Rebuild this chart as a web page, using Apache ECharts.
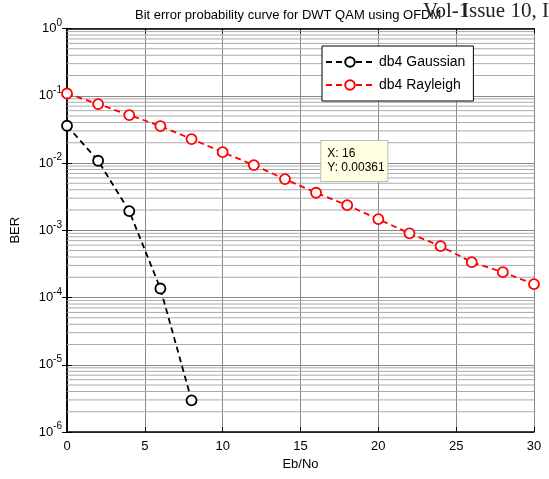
<!DOCTYPE html>
<html><head><meta charset="utf-8">
<script src="https://cdn.jsdelivr.net/npm/echarts@6/dist/echarts.min.js"></script>
<style>html,body{margin:0;padding:0;background:#fff}#c{width:549px;height:479px}</style>
</head><body><div id="c"></div>
<script>
var ebNo = [0, 2, 4, 6, 8, 10, 12, 14, 16, 18, 20, 22, 24, 26, 28, 30];
var gaussianX = [0, 2, 4, 6, 8];
var gaussianBER = [0.0358, 0.0108, 0.00192, 0.000136, 0.00000296];
var rayleighBER = [0.108, 0.0752, 0.0516, 0.0354, 0.0227, 0.0145, 0.0093, 0.00576, 0.00361, 0.00236, 0.00146, 0.00090, 0.00058, 0.000335, 0.000238, 0.000158];
var dataTip = [16, 0.00361];
var xRange = [0, 30];

var minorValues = [];
for (var d = -6; d < 0; d++) {
  for (var m = 2; m <= 9; m++) minorValues.push(m * Math.pow(10, d));
}

var FONT = 'Liberation Sans';
var chart = echarts.init(document.getElementById('c'), null, { renderer: 'canvas' });

function pairs(xs, ys) { return xs.map(function (x, i) { return [x, ys[i]]; }); }

var gridSeries = minorValues.map(function (v) {
  return {
    type: 'line', silent: true, symbol: 'none', z: 1,
    data: [[xRange[0], v], [xRange[1], v]],
    lineStyle: { color: '#aaa', width: 1 },
    tooltip: { show: false }
  };
});

chart.setOption({
  animation: false,
  backgroundColor: '#fff',
  title: {
    text: 'Bit error probability curve for DWT QAM using OFDM',
    left: 130, top: 4,
    textStyle: { fontFamily: FONT, fontSize: 13, fontWeight: 'normal', color: '#000' }
  },
  graphic: [{
    type: 'text', left: 423, top: 1, z: 100,
    style: { text: 'Vol-1', font: '21px "Liberation Serif"', fill: '#222' }
  }, {
    type: 'text', left: 462, top: 1, z: 100,
    style: { text: 'Issue 10, I', font: '21px "Liberation Serif"', fill: '#222' }
  }],
  legend: {
    left: 322, top: 46, orient: 'vertical',
    padding: [9, 8, 9, 3], itemGap: 9, itemWidth: 48, itemHeight: 12,
    backgroundColor: '#fff', borderColor: '#000', borderWidth: 1,
    textStyle: { fontFamily: FONT, fontSize: 14, color: '#000' },
    data: ['db4 Gaussian', 'db4 Rayleigh']
  },
  grid: { left: 67, right: 15, top: 28.5, bottom: 47 },
  xAxis: [{
    type: 'value', min: xRange[0], max: xRange[1], interval: 5,
    name: 'Eb/No', nameLocation: 'middle', nameGap: 26,
    nameTextStyle: { fontFamily: FONT, fontSize: 13, color: '#000' },
    axisLine: { lineStyle: { color: '#000', width: 1.5 } },
    axisTick: { inside: true, length: 5, lineStyle: { color: '#000' } },
    axisLabel: { fontFamily: FONT, fontSize: 13, color: '#000', margin: 8 },
    splitLine: { show: true, lineStyle: { color: '#888', width: 1 } }
  }, {
    type: 'value', position: 'top', min: xRange[0], max: xRange[1], interval: 5,
    axisLine: { show: true, lineStyle: { color: '#000', width: 1.5 } },
    axisTick: { inside: true, length: 5, lineStyle: { color: '#000' } },
    axisLabel: { show: false }, splitLine: { show: false }
  }],
  yAxis: [{
    type: 'log', logBase: 10, min: 1e-6, max: 1,
    name: 'BER', nameLocation: 'middle', nameGap: 45, nameRotate: 90,
    nameTextStyle: { fontFamily: FONT, fontSize: 13, color: '#000' },
    axisLine: { show: true, lineStyle: { color: '#000', width: 1.5 } },
    axisTick: { show: true, inside: true, length: 5, lineStyle: { color: '#000' } },
    axisLabel: {
      fontFamily: FONT, fontSize: 13, color: '#000', margin: 5,
      formatter: function (v) { var e = Math.round(Math.log10(v)); return '10{s|' + e + '}'; },
      rich: { s: { fontFamily: FONT, fontSize: 10, color: '#000', verticalAlign: 'top', padding: [0, 0, 11, 0] } }
    },
    splitLine: { show: true, lineStyle: { color: '#888', width: 1 } }
  }, {
    type: 'log', logBase: 10, min: 1e-6, max: 1, position: 'right',
    axisLine: { show: true, lineStyle: { color: '#000', width: 1.5 } },
    axisTick: { show: true, inside: true, length: 5, lineStyle: { color: '#000' } },
    axisLabel: { show: false }, splitLine: { show: false }
  }],
  series: gridSeries.concat([{
    name: 'db4 Gaussian', type: 'line', xAxisIndex: 0, yAxisIndex: 0,
    data: pairs(gaussianX, gaussianBER),
    symbol: 'circle', symbolSize: 10, showAllSymbol: true,
    itemStyle: { color: '#fff', borderColor: '#000', borderWidth: 1.8 },
    lineStyle: { color: '#000', width: 1.8, type: [6, 4] },
    z: 5
  }, {
    name: 'db4 Rayleigh', type: 'line', xAxisIndex: 0, yAxisIndex: 0,
    data: pairs(ebNo, rayleighBER),
    symbol: 'circle', symbolSize: 10, showAllSymbol: true,
    itemStyle: { color: '#fff', borderColor: '#f00', borderWidth: 1.8 },
    lineStyle: { color: '#f00', width: 1.8, type: [6, 4] },
    z: 5,
    markPoint: {
      symbol: 'rect', symbolSize: 8,
      itemStyle: { color: '#000', borderColor: '#ffffe1', borderWidth: 1.5 },
      label: {
        show: true,
        position: [10, -47],
        formatter: 'X: ' + dataTip[0] + '\nY: ' + dataTip[1],
        fontFamily: FONT, fontSize: 12, color: '#000', lineHeight: 14,
        backgroundColor: '#ffffe1', borderColor: '#bbb', borderWidth: 1,
        padding: [6, 6, 6, 6], width: 54, align: 'left'
      },
      data: [{ coord: dataTip }]
    }
  }])
});
</script></body></html>
